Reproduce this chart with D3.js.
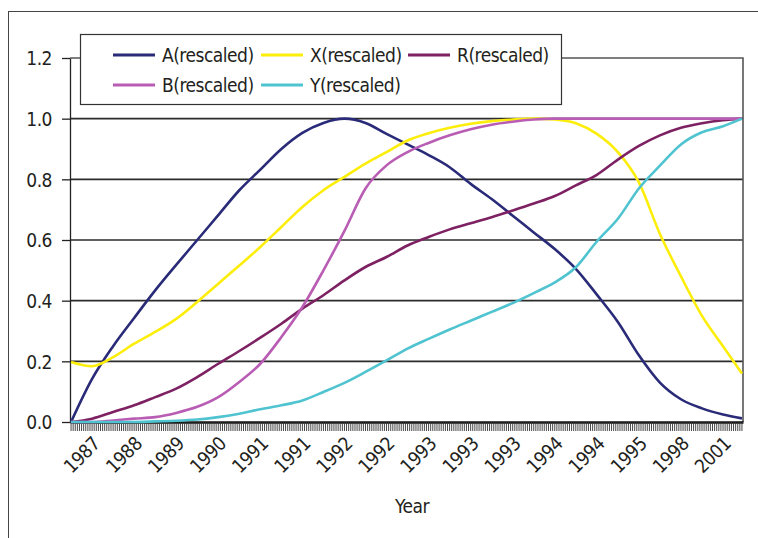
<!DOCTYPE html>
<html>
<head>
  <meta charset="utf-8">
  <script src="https://d3js.org/d3.v7.min.js"></script>
  <style>
    body { margin: 0; background: #fff; }
    svg text {
      font-family: "DejaVu Sans Condensed", "Liberation Sans Narrow", "Liberation Sans", sans-serif;
      fill: #231f20;
      letter-spacing: -0.5px;
    }
  </style>
</head>
<body>
<svg id="chart" width="758" height="538"></svg>
<script>
  /* category axis: one tick per observation, a year label every 20th */
  var nCategories = 320;
  var labelEvery = 20;
  var labelStart = 11;
  var yearLabels = ["1987", "1988", "1989", "1990", "1991", "1991", "1992", "1992",
                    "1993", "1993", "1993", "1994", "1994", "1995", "1998", "2001"];

  var sampleIdx = [0, 10, 20, 30, 40, 50, 60, 70, 80, 90, 100, 110, 120, 130, 140, 150,
                   160, 170, 180, 190, 200, 210, 220, 230, 240, 250, 260, 270, 280, 290,
                   300, 310, 319];

  var seriesA = [0, 0.142, 0.25, 0.343, 0.434, 0.518, 0.60, 0.682, 0.764, 0.832, 0.90,
                 0.953, 0.986, 1.0, 0.986, 0.95, 0.915, 0.88, 0.84, 0.785, 0.735, 0.68,
                 0.625, 0.57, 0.505, 0.42, 0.33, 0.22, 0.13, 0.075, 0.045, 0.025, 0.012];
  var seriesX = [0.198, 0.184, 0.214, 0.258, 0.297, 0.34, 0.396, 0.456, 0.516, 0.577,
                 0.643, 0.709, 0.764, 0.808, 0.852, 0.89, 0.928, 0.952, 0.97, 0.983,
                 0.992, 0.997, 1.0, 0.997, 0.985, 0.95, 0.89, 0.79, 0.62, 0.48, 0.35,
                 0.25, 0.16];
  var seriesR = [0, 0.011, 0.033, 0.055, 0.082, 0.11, 0.148, 0.192, 0.234, 0.278, 0.324,
                 0.374, 0.418, 0.467, 0.511, 0.544, 0.582, 0.61, 0.635, 0.655, 0.675,
                 0.697, 0.72, 0.745, 0.78, 0.815, 0.865, 0.91, 0.945, 0.97, 0.985, 0.995, 1.0];
  var seriesB = [0, 0, 0.005, 0.011, 0.016, 0.03, 0.05, 0.082, 0.132, 0.192, 0.28, 0.379,
                 0.50, 0.63, 0.77, 0.846, 0.89, 0.92, 0.945, 0.965, 0.98, 0.99, 0.997,
                 1.0, 1.0, 1.0, 1.0, 1.0, 1.0, 1.0, 1.0, 1.0, 1.0];
  var seriesY = [0, 0, 0, 0, 0.002, 0.004, 0.008, 0.016, 0.027, 0.042, 0.055, 0.071,
                 0.099, 0.129, 0.165, 0.203, 0.242, 0.274, 0.305, 0.334, 0.363, 0.392,
                 0.425, 0.46, 0.51, 0.595, 0.67, 0.77, 0.845, 0.915, 0.955, 0.975, 1.0];

  var yTicks = [0, 0.2, 0.4, 0.6, 0.8, 1.0, 1.2];

  var series = [
    { name: "A(rescaled)", values: seriesA, color: "#2a2b78" },
    { name: "X(rescaled)", values: seriesX, color: "#fcee0a" },
    { name: "R(rescaled)", values: seriesR, color: "#7d2163" },
    { name: "B(rescaled)", values: seriesB, color: "#b95db4" },
    { name: "Y(rescaled)", values: seriesY, color: "#4fc4d0" }
  ];

  var svg = d3.select("#chart");
  var plotL = 70, plotR = 743, plotT = 58, plotB = 422;
  var fontSize = "19px";

  // outer frame
  svg.append("rect")
     .attr("x", 8.5).attr("y", 11.5)
     .attr("width", 770).attr("height", 540)
     .attr("fill", "none").attr("stroke", "#444").attr("stroke-width", 1);

  var x = d3.scaleBand()
            .domain(d3.range(nCategories))
            .range([plotL, plotR]);
  var xc = function(i) { return x(i) + x.bandwidth() / 2; };

  var y = d3.scaleLinear()
            .domain([0, 1.2])
            .range([plotB, plotT]);

  /* gridlines */
  svg.append("g")
     .selectAll("line")
     .data(yTicks.filter(function(d) { return d > 0 && d < 1.2; }))
     .enter().append("line")
     .attr("x1", plotL).attr("x2", plotR)
     .attr("y1", function(d) { return y(d); })
     .attr("y2", function(d) { return y(d); })
     .attr("stroke", "#2b2b2b").attr("stroke-width", 1.6);

  // plot border top and right
  svg.append("path")
     .attr("d", "M" + plotL + "," + plotT + "H" + plotR + "V" + plotB)
     .attr("fill", "none").attr("stroke", "#555").attr("stroke-width", 1.6);

  /* y axis */
  var yAxis = svg.append("g")
     .attr("transform", "translate(" + plotL + ",0)")
     .call(d3.axisLeft(y).tickValues(yTicks).tickFormat(d3.format(".1f"))
             .tickSize(8).tickSizeOuter(0));
  yAxis.select(".domain").attr("stroke", "#222").attr("stroke-width", 1.3);
  yAxis.selectAll(".tick line").attr("stroke", "#222").attr("stroke-width", 1.3);
  yAxis.selectAll("text")
       .attr("x", -18).attr("dy", "0.36em")
       .style("font-size", fontSize).attr("fill", "#231f20");

  /* x axis: dense category ticks */
  var xAxis = svg.append("g")
     .attr("transform", "translate(0," + plotB + ")")
     .call(d3.axisBottom(x).tickValues(d3.range(nCategories))
             .tickFormat("").tickSize(9).tickSizeOuter(0));
  xAxis.select(".domain").attr("stroke", "#111").attr("stroke-width", 2.4);
  xAxis.selectAll(".tick line").attr("stroke", "#333").attr("stroke-width", 0.9);

  svg.append("g")
     .selectAll("text")
     .data(yearLabels)
     .enter().append("text")
     .attr("text-anchor", "end")
     .attr("transform", function(d, i) {
       return "translate(" + (xc(labelStart + i * labelEvery) + 7) + ",445) rotate(-45)";
     })
     .style("font-size", fontSize)
     .text(function(d) { return d; });

  svg.append("text")
     .attr("x", 412).attr("y", 513)
     .attr("text-anchor", "middle")
     .style("font-size", fontSize)
     .text("Year");

  /* lines */
  var line = d3.line()
               .x(function(d, i) { return xc(sampleIdx[i]); })
               .y(function(d) { return y(d); })
               .curve(d3.curveMonotoneX);

  svg.append("g")
     .selectAll("path")
     .data(series)
     .enter().append("path")
     .attr("d", function(d) { return line(d.values); })
     .attr("fill", "none")
     .attr("stroke", function(d) { return d.color; })
     .attr("stroke-width", 2.6);

  /* legend */
  var legend = svg.append("g");
  legend.append("rect")
        .attr("x", 80.5).attr("y", 34.5)
        .attr("width", 481).attr("height", 70)
        .attr("fill", "#fff").attr("stroke", "#333").attr("stroke-width", 1.2);

  var legendCols = [113, 261, 408];
  var legendRows = [55, 85];
  var entry = legend.selectAll("g.entry")
        .data(series)
        .enter().append("g")
        .attr("class", "entry")
        .attr("transform", function(d, i) {
          return "translate(" + legendCols[i % 3] + "," + legendRows[Math.floor(i / 3)] + ")";
        });
  entry.append("line")
       .attr("x1", 0).attr("x2", 42)
       .attr("stroke", function(d) { return d.color; })
       .attr("stroke-width", 2.8);
  entry.append("text")
       .attr("x", 49).attr("dy", "0.36em")
       .style("font-size", fontSize)
       .text(function(d) { return d.name; });
</script>
</body>
</html>
